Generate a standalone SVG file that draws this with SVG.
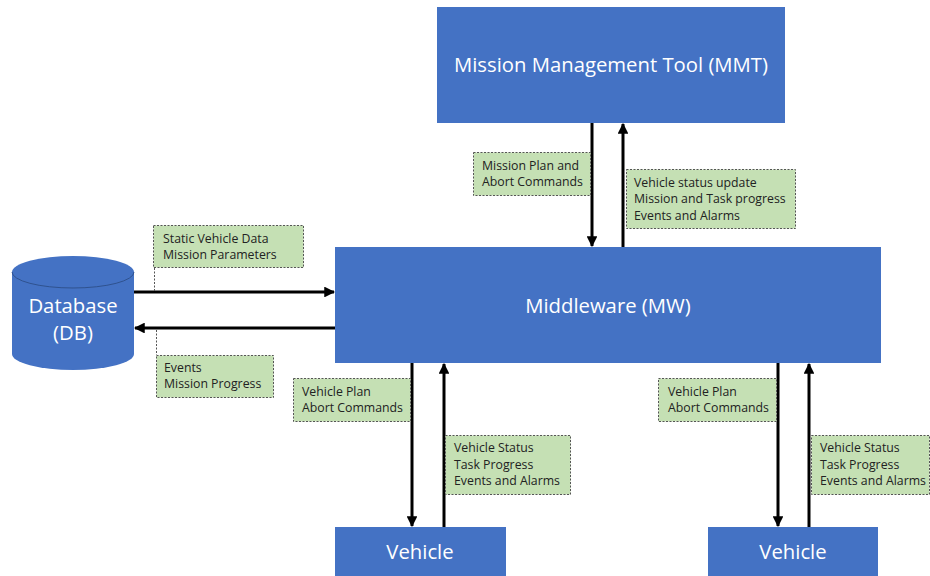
<svg xmlns="http://www.w3.org/2000/svg" width="930" height="576" viewBox="0 0 930 576">
<defs>
<marker id="ah" viewBox="0 0 10 10" refX="9" refY="5" markerWidth="3.6" markerHeight="3.6" orient="auto" markerUnits="strokeWidth">
<path d="M0,0 L10,5 L0,10 z" fill="#000"/>
</marker>
<style>
.node{fill:#4472C4;}
.title{fill:#fff;font-family:"Open Sans","Liberation Sans",sans-serif;font-size:20.3px;text-anchor:middle;}
.lab{fill:#C5E0B4;stroke:#555;stroke-width:1;stroke-dasharray:2 1.5;}
.lt{fill:#222;font-family:"Open Sans","Liberation Sans",sans-serif;font-size:12.3px;}
.arr{stroke:#000;stroke-width:3;fill:none;marker-end:url(#ah);}
.lead{stroke:#555;stroke-width:1;stroke-dasharray:2 1.5;fill:none;}
</style>
</defs>
<rect width="930" height="576" fill="#fff"/>

<g id="mmt">
<rect class="node" x="437" y="7" width="348" height="116"/>
<text class="title" x="611" y="72">Mission Management Tool (MMT)</text>
</g>

<g id="mw">
<rect class="node" x="335" y="247" width="546" height="116"/>
<text class="title" x="608" y="313">Middleware (MW)</text>
</g>

<g id="db">
<path class="node" d="M12,272 A61,16 0 0 1 134,272 L134,354 A61,16 0 0 1 12,354 Z"/>
<path d="M12,272 A61,16 0 0 0 134,272" fill="none" stroke="#2F528F" stroke-width="1"/>
<text class="title" x="73" y="313">Database</text>
<text class="title" x="73" y="340">(DB)</text>
</g>

<g id="vehicle1">
<rect class="node" x="335" y="527" width="171" height="52"/>
<text class="title" x="420" y="559">Vehicle</text>
</g>

<g id="vehicle2">
<rect class="node" x="708" y="527" width="170" height="52"/>
<text class="title" x="793" y="559">Vehicle</text>
</g>

<g id="connectors">
<line class="arr" x1="592" y1="123" x2="592" y2="246"/>
<line class="arr" x1="623" y1="247" x2="623" y2="124"/>
<line class="arr" x1="134" y1="292" x2="334" y2="292"/>
<line class="arr" x1="335" y1="328" x2="135" y2="328"/>
<line class="arr" x1="412" y1="363" x2="412" y2="526"/>
<line class="arr" x1="444" y1="527" x2="444" y2="364"/>
<line class="arr" x1="778" y1="363" x2="778" y2="526"/>
<line class="arr" x1="809" y1="527" x2="809" y2="364"/>
<line class="lead" x1="154.5" y1="268" x2="154.5" y2="291"/>
<line class="lead" x1="156.5" y1="330" x2="156.5" y2="355"/>
</g>

<g id="label-db-in">
<rect class="lab" x="153.5" y="225.5" width="150" height="42"/>
<text class="lt" x="163" y="243">Static Vehicle Data</text>
<text class="lt" x="163" y="259">Mission Parameters</text>
</g>

<g id="label-db-out">
<rect class="lab" x="156.5" y="355.5" width="117" height="42"/>
<text class="lt" x="164" y="372">Events</text>
<text class="lt" x="164" y="388">Mission Progress</text>
</g>

<g id="label-mmt-down">
<rect class="lab" x="473.5" y="152.5" width="117" height="43"/>
<text class="lt" x="482" y="170">Mission Plan and</text>
<text class="lt" x="482" y="186">Abort Commands</text>
</g>

<g id="label-mmt-up">
<rect class="lab" x="626.5" y="169.5" width="169" height="59"/>
<text class="lt" x="634" y="187">Vehicle status update</text>
<text class="lt" x="634" y="203">Mission and Task progress</text>
<text class="lt" x="634" y="220">Events and Alarms</text>
</g>

<g id="label-v1-down">
<rect class="lab" x="293.5" y="378.5" width="117" height="43"/>
<text class="lt" x="302" y="396">Vehicle Plan</text>
<text class="lt" x="302" y="412">Abort Commands</text>
</g>

<g id="label-v1-up">
<rect class="lab" x="445.5" y="435.5" width="125" height="59"/>
<text class="lt" x="454" y="452">Vehicle Status</text>
<text class="lt" x="454" y="469">Task Progress</text>
<text class="lt" x="454" y="485">Events and Alarms</text>
</g>

<g id="label-v2-down">
<rect class="lab" x="658.5" y="378.5" width="118" height="43"/>
<text class="lt" x="668" y="396">Vehicle Plan</text>
<text class="lt" x="668" y="412">Abort Commands</text>
</g>

<g id="label-v2-up">
<rect class="lab" x="811.5" y="435.5" width="118" height="59"/>
<text class="lt" x="820" y="452">Vehicle Status</text>
<text class="lt" x="820" y="469">Task Progress</text>
<text class="lt" x="820" y="485">Events and Alarms</text>
</g>
</svg>
